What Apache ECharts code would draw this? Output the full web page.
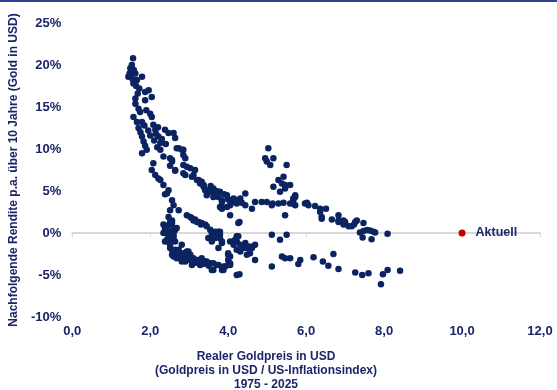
<!DOCTYPE html>
<html>
<head>
<meta charset="utf-8">
<script src="https://cdn.jsdelivr.net/npm/echarts@6/dist/echarts.min.js"></script>
<style>
  html, body { margin: 0; padding: 0; background: #fff; }
  #chart { width: 557px; height: 390px; }
</style>
</head>
<body>
<div id="chart"></div>
<script>
// x: realer Goldpreis, y: Rendite p.a. in %
const steepBranch = [
  [1.56,20.8],[1.53,20.0],[1.49,19.6],[1.44,18.6],[1.62,19.0],[1.66,18.2],[1.79,18.6],[1.57,17.8],
  [1.52,18.9],[1.58,19.4],[1.47,19.0],[1.55,18.3],[1.64,17.5],[1.87,16.8],[1.96,17.0],[2.04,16.2],
  [1.87,15.8],[1.62,16.0],[1.62,15.4],[1.70,14.8],[1.57,13.8],[1.74,14.4],[2.00,14.2],[2.04,13.8],
  [1.79,13.2],[1.70,12.5],[1.79,11.5],[1.91,9.9],[1.79,9.5],[1.87,10.4],[1.83,10.9],[2.08,12.9],
  [2.13,12.3],[2.21,11.5],[2.38,12.3],[2.47,11.9],[2.60,11.9],[2.64,11.3],[2.26,10.7],[2.26,9.9],
  [2.34,9.1],[2.73,10.1],[2.85,9.9],[2.51,8.9],[2.56,8.5],[2.64,7.5],[1.66,13.2],[1.75,12.0],
  [1.85,12.8],[1.95,12.2],[2.00,11.6],[2.10,11.0],[2.15,11.8],[2.20,12.6],[1.90,14.6],[1.68,16.6],
  [1.72,17.2],[2.30,11.2],[2.40,10.6],[2.18,10.2],[2.68,10.1],[2.81,9.9],[2.85,9.3],[2.90,8.9],
  [2.56,8.7],[2.51,8.0],[2.64,7.4],[2.85,7.1]
];
const upperBranch = [
  [2.08,8.3],[2.04,7.5],[2.13,6.9],[2.21,6.5],[2.26,6.3],[2.34,5.7],[2.47,5.1],[2.38,4.6],[2.43,4.7],
  [2.85,8.1],[2.94,7.9],[3.03,7.7],[3.15,7.5],[2.90,6.9],[3.07,6.7],[3.11,6.9],[3.20,6.3],[3.28,5.9],
  [3.24,6.3],[3.32,6.1],[3.37,5.5],[3.37,5.7],[3.41,5.1],[3.49,5.1],[3.58,5.3],[3.62,5.3],[3.67,4.7],
  [3.79,4.9],[3.75,4.3],[3.97,4.5],[3.45,4.5],[3.67,4.4],[4.14,4.1],[4.44,4.7],[4.31,4.1],[3.84,3.7],
  [4.05,3.9],[4.14,3.7],[3.79,3.1],[3.97,3.1],[3.54,4.9],[3.62,4.3],[3.84,3.9],[3.84,2.9],[4.05,3.3],
  [4.05,2.1],[4.22,3.5],[4.44,3.3],[4.69,3.7],[4.86,3.7],[4.61,2.9],[4.99,3.7],[5.12,3.3],[5.14,3.5],
  [5.29,3.5],[4.29,1.3],[4.26,1.2],[3.84,3.1],[4.00,4.0],[4.20,3.9],[4.35,3.6],[3.55,5.6],[3.70,5.0],
  [3.90,4.6]
];
const bumpBranch = [
  [5.03,10.1],[4.95,8.9],[4.99,8.5],[5.08,8.1],[5.16,8.9],[5.50,8.1],[5.42,6.7],[5.29,6.3],[5.38,5.9],
  [5.16,5.5],[5.59,5.7],[5.46,5.3],[5.46,5.7],[5.33,4.9],[5.72,4.5],[5.67,4.1],[5.59,3.5],[5.42,3.6],
  [5.72,3.3],[5.67,3.9],[5.46,2.1],[5.72,4.3],[5.67,3.5]
];
const tailBranch = [
  [5.97,3.5],[6.02,3.6],[6.06,3.3],[6.23,3.2],[6.36,2.9],[6.51,2.9],[6.36,2.5],[6.40,1.9],[6.40,1.7],
  [6.66,1.6],[6.83,1.5],[6.83,2.1],[6.83,1.3],[7.00,1.3],[6.96,1.0],[6.96,1.5],[7.09,0.8],[7.17,0.8],
  [7.26,1.3],[7.30,1.5],[7.23,1.0],[7.47,1.2],[7.38,0.05],[7.47,0.25],[7.56,0.35],[7.64,0.3],[7.73,0.15],
  [7.77,0.05],[7.45,-0.55],[7.68,-0.75],[8.09,-0.1]
];
const lowerScatter = [
  [5.12,-0.2],[5.33,-0.8],[5.50,-0.2],[5.38,-2.8],[5.46,-3.0],[5.59,-3.0],[5.85,-3.2],[5.80,-3.7],
  [5.12,-4.0],[6.19,-2.9],[6.43,-3.4],[6.57,-3.9],[6.70,-2.5],[6.83,-4.3],[7.26,-4.7],[7.44,-5.0],
  [7.60,-4.8],[7.97,-4.9],[8.09,-4.4],[7.92,-6.1],[8.41,-4.5]
];
const lowerLoop = [
  [2.56,3.9],[2.60,3.3],[2.51,2.7],[2.73,2.7],[2.47,1.9],[2.51,1.3],[2.56,1.5],[2.34,1.0],[2.38,0.6],
  [2.56,1.2],[2.60,0.6],[2.68,0.6],[2.64,0.36],[2.38,0.36],[2.34,0],[2.43,0],[2.47,-0.4],[2.60,0],
  [2.60,-0.4],[2.60,-0.8],[2.43,-0.8],[2.38,-1.0],[2.51,-1.4],[2.64,-1.0],[2.56,-2.0],[2.51,-1.8],
  [2.64,-2.0],[2.64,-2.2],[2.81,-1.4],[2.73,-2.0],[2.77,-2.6],[2.56,-2.6],[2.60,-2.8],[2.68,-3.0],
  [2.85,-2.8],[2.85,-2.4],[2.94,-2.2],[2.98,-2.2],[3.03,-2.6],[2.90,-3.2],[2.90,-3.4],[3.03,-3.2],
  [3.11,-3.0],[3.07,-3.0],[3.15,-3.4],[2.81,-3.4],[2.81,-3.2],[3.07,-3.8],[3.11,-3.6],[3.20,-3.2],
  [3.28,-3.2],[3.28,-3.8],[3.32,-3.0],[3.41,-3.4],[3.45,-3.4],[3.54,-3.6],[3.62,-3.6],[3.62,-4.4],
  [3.58,-4.4],[3.71,-3.8],[3.75,-3.8],[3.88,-4.0],[3.92,-4.0],[3.84,-4.4],[3.88,-4.4],[4.00,-3.8],
  [4.05,-3.8],[4.05,-2.8],[4.00,-3.2],[4.00,-2.6],[4.00,-2.4],[4.22,-5.0],[4.29,-4.9],[4.05,-3.6],
  [2.45,0.9],[2.50,0.2],[2.55,-0.2],[2.48,-1.1],[2.70,-2.5],[2.95,-2.8],[3.18,-3.5],[3.36,-3.7],[3.50,-3.9]
];
const middleBranch = [
  [2.94,2.1],[3.03,1.9],[3.07,1.75],[3.11,1.5],[3.20,1.3],[3.24,1.3],[3.32,1.2],[3.41,1.0],[3.54,0.4],
  [3.58,0],[3.62,0],[3.67,0.15],[3.75,0.15],[3.79,0.15],[3.79,-0.2],[3.62,-0.4],[3.79,-0.6],[3.67,-0.6],
  [3.84,-1.2],[3.84,-1.0],[3.58,-1.0],[3.75,-1.8],[3.49,-0.6],[4.05,-1.0],[4.14,-1.0],[4.14,-1.4],
  [4.22,-0.4],[4.22,-1.0],[4.26,-0.4],[4.18,-0.8],[4.31,-1.4],[4.44,-1.2],[4.31,-2.2],[4.39,-1.8],
  [4.48,-1.8],[4.56,-1.6],[4.56,-2.4],[4.48,-2.6],[4.69,-1.4],[4.61,-1.8],[4.69,-3.2],[4.22,-2.0],
  [3.30,1.0],[3.45,0.8],[3.15,1.6]
];
const current = [[10.0, 0.0]];
const currentLabel = 'Aktuell';

const yTitle = 'Nachfolgende Rendite p.a. über 10 Jahre (Gold in USD)';
const xTitle = 'Realer Goldpreis in USD\n(Goldpreis in USD / US-Inflationsindex)\n1975 - 2025';

const navy = '#1b2569';
const dot = '#0b2461';

const history = [].concat(steepBranch, upperBranch, bumpBranch, tailBranch, lowerScatter, lowerLoop, middleBranch);

const chart = echarts.init(document.getElementById('chart'));
chart.setOption({
  animation: false,
  textStyle: { fontFamily: 'Liberation Sans, Arial, sans-serif' },
  grid: { left: 72, right: 17, top: 23, bottom: 73 },
  xAxis: [
    {
      type: 'value', min: 0, max: 12, interval: 2,
      axisLine: { show: false, onZero: false },
      axisTick: { show: false },
      splitLine: { show: false },
      axisLabel: {
        color: navy, fontWeight: 'bold', fontSize: 13, margin: 8,
        formatter: v => v.toFixed(1).replace('.', ',')
      }
    },
    {
      type: 'value', min: 0, max: 12, interval: 2, position: 'bottom',
      axisLine: { show: true, onZero: true, lineStyle: { color: '#d9d9d9', width: 2 } },
      axisTick: { show: true, length: 4, lineStyle: { color: '#d9d9d9', width: 1 } },
      axisLabel: { show: false },
      splitLine: { show: false }
    }
  ],
  yAxis: {
    type: 'value', min: -10, max: 25, interval: 5,
    axisLine: { show: false }, axisTick: { show: false }, splitLine: { show: false },
    axisLabel: { color: navy, fontWeight: 'bold', fontSize: 13, margin: 11, formatter: '{value}%' },
    name: yTitle, nameLocation: 'middle', nameGap: 51,
    nameTextStyle: { color: navy, fontWeight: 'bold', fontSize: 12 }
  },
  graphic: [
    { type: 'line', shape: { x1: 0, y1: 1, x2: 557, y2: 1 }, style: { stroke: '#2f3f92', lineWidth: 2 } },
    {
      type: 'text', x: 266, y: 350,
      style: {
        text: xTitle, textAlign: 'center', fill: navy,
        font: 'bold 12px Liberation Sans, Arial, sans-serif', lineHeight: 14
      }
    }
  ],
  series: [
    {
      type: 'scatter', data: history, symbolSize: 6.5,
      itemStyle: { color: dot, opacity: 1 }
    },
    {
      type: 'scatter', data: current, symbolSize: 7,
      itemStyle: { color: '#c00000', opacity: 1 },
      label: {
        show: true, position: 'right', distance: 10, formatter: currentLabel,
        color: navy, fontWeight: 'bold', fontSize: 12.5
      }
    }
  ]
});
</script>
</body>
</html>
